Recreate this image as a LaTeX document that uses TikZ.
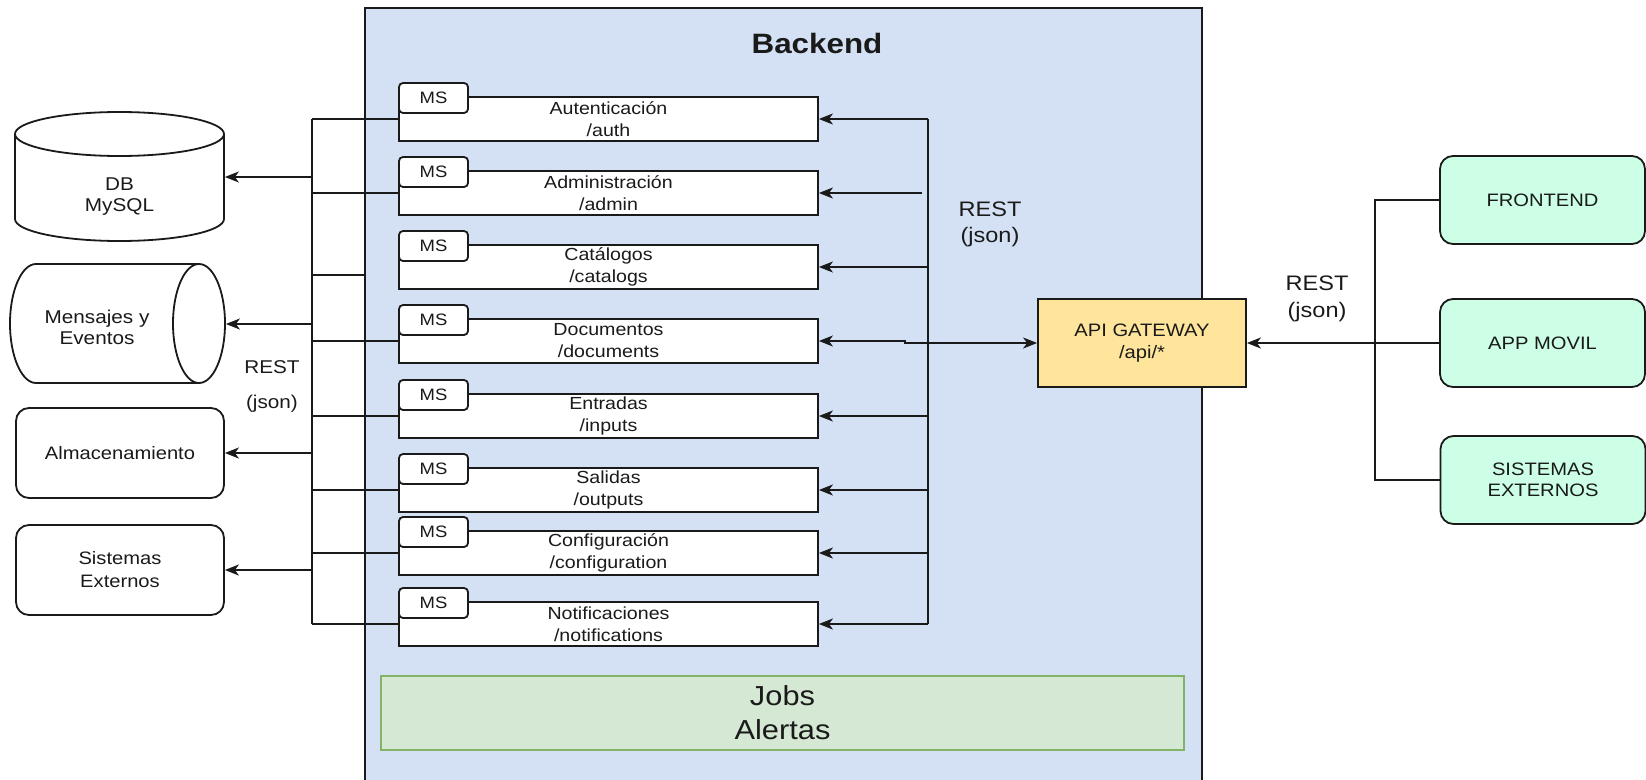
\documentclass[tikz,border=0pt]{standalone}
\usepackage{fontspec}
\setmainfont{Liberation Sans}[FakeStretch=1.12]
\usetikzlibrary{arrows.meta,calc}
\definecolor{beblue}{HTML}{D4E1F5}
\definecolor{mint}{HTML}{CCFFE6}
\definecolor{gwyellow}{HTML}{FFE49C}
\definecolor{jobfill}{HTML}{D5E8D4}
\definecolor{jobline}{HTML}{82B366}
\definecolor{ink}{HTML}{1A1A1A}

% one micro-service: main box plus its "MS" tab
\newcommand\msvc[4]{%
  \node[svcbox] (#1) at (608.5,#2) {#3\\#4};
  \node[mstab] (#1ms) at ($(#1.north west)+(0,-14)$) {MS};
}

\begin{document}
\begin{tikzpicture}[x=1pt,y=-1pt,
  line width=1.8pt, draw=ink,
  every node/.style={inner sep=0pt, align=center, text=ink,
    font=\fontsize{17.5}{22}\selectfont},
  arr/.style={-{Stealth[length=14pt,width=11pt,inset=4pt]}},
  biarr/.style={{Stealth[length=14pt,width=11pt,inset=4pt]}-{Stealth[length=14pt,width=11pt,inset=4pt]}},
  svcbox/.style={draw, fill=white, minimum width=419, minimum height=44},
  mstab/.style={draw, fill=white, rounded corners=4pt, minimum width=69,
    minimum height=30, anchor=north west, font=\fontsize{16.5}{18}\selectfont},
  extbox/.style={draw, fill=white, rounded corners=13pt, minimum width=208,
    minimum height=90, font=\fontsize{18}{23}\selectfont},
  clientbox/.style={draw, fill=mint, rounded corners=13pt, minimum width=205,
    minimum height=88, font=\fontsize{18}{21}\selectfont},
]
\useasboundingbox (0,0) rectangle (1646,779);
\clip (0,0) rectangle (1646,779);

% ---------- Backend container ----------
\node[draw, fill=beblue, minimum width=837, minimum height=790,
      anchor=north west] (backend) at (364,7) {};
\node[font=\fontsize{28}{30}\selectfont\bfseries] (betitle) at (817,43) {Backend};

% ---------- micro-services ----------
\msvc{auth}{119}{Autenticación}{/auth}
\msvc{admin}{193}{Administración}{/admin}
\msvc{cat}{267}{Catálogos}{/catalogs}
\msvc{doc}{341}{Documentos}{/documents}
\msvc{ent}{416}{Entradas}{/inputs}
\msvc{sal}{490}{Salidas}{/outputs}
\msvc{conf}{553}{Configuración}{/configuration}
\msvc{notif}{624}{Notificaciones}{/notifications}

% ---------- jobs ----------
\node[draw=jobline, fill=jobfill, minimum width=803, minimum height=74,
      font=\fontsize{27.5}{34}\selectfont] (jobs) at (782.5,713) {Jobs\\Alertas};

% ---------- API gateway ----------
\node[draw, fill=gwyellow, minimum width=208, minimum height=88,
      font=\fontsize{18}{22}\selectfont] (api) at (1142,343) {API GATEWAY\\/api/*};

% ---------- clients ----------
\node[clientbox] (fe)   at (1542.5,200) {FRONTEND};
\node[clientbox] (app)  at (1542.5,343) {APP MOVIL};
\node[clientbox] (sisR) at (1543,480)   {SISTEMAS\\EXTERNOS};

% ---------- external resources (left) ----------
% database cylinder
\filldraw[fill=white] (15,134) -- (15,219)
  .. controls (15,231.15) and (61.8,241) .. (119.5,241)
  .. controls (177.2,241) and (224,231.15) .. (224,219) -- (224,134);
\filldraw[fill=white] (119.5,134) ellipse [x radius=104.5, y radius=22];
\node[minimum width=209, minimum height=130] (db) at (119.5,177) {};
\node[font=\fontsize{18.5}{21}\selectfont] (dbtxt) at (119.5,197) {DB\\MySQL};

% message queue cylinder (lying)
\filldraw[fill=white] (199,264) -- (36,264)
  .. controls (21.64,264) and (10,290.64) .. (10,323.5)
  .. controls (10,356.36) and (21.64,383) .. (36,383) -- (199,383);
\filldraw[fill=white] (199,323.5) ellipse [x radius=26, y radius=59.5];
\node[minimum width=215, minimum height=120] (msg) at (117.5,324) {};
\node[font=\fontsize{18.5}{21}\selectfont] (msgtxt) at (97,327) {Mensajes y\\Eventos};

\node[extbox] (alm)  at (120,453) {Almacenamiento};
\node[extbox] (sisL) at (120,570) {Sistemas\\Externos};

% ---------- left bus ----------
\coordinate (lbus) at (312,0);
\draw (auth.west -| lbus) -- (notif.west -| lbus);
\foreach \s in {auth,admin,doc,ent,sal,conf,notif}
  \draw (\s.west) -- (\s.west -| lbus);
\coordinate (catstub) at (364,275);
\draw (catstub -| lbus) -- (catstub);
\draw[arr] (db.east -| lbus)   -- (db.east);
\draw[arr] (msg.east -| lbus)  -- (msg.east);
\draw[arr] (alm.east -| lbus)  -- (alm.east);
\draw[arr] (sisL.east -| lbus) -- (sisL.east);
\node[font=\fontsize{18.5}{35}\selectfont] (restL) at (272,386) {REST\\(json)};

% ---------- right distribution line ----------
\coordinate (rbus) at (928,0);
\draw (auth.east -| rbus) -- (notif.east -| rbus);
\foreach \s in {auth,cat,ent,sal,conf,notif}
  \draw[arr] (\s.east -| rbus) -- (\s.east);
\coordinate (admstart) at (922,193);
\draw[arr] (admstart) -- (admin.east);
\draw[biarr] (doc.east) -- ++(86,0) |- (api.west);
\node[font=\fontsize{21}{26}\selectfont] (restB) at (990,224) {REST\\(json)};

% ---------- clients to gateway ----------
\coordinate (cbus) at (1375,0);
\draw (fe.west) -- (fe.west -| cbus) -- (sisR.west -| cbus) -- (sisR.west);
\draw[arr] (app.west) -- (api.east);
\node[font=\fontsize{21}{27}\selectfont] (restR) at (1317,298.5) {REST\\(json)};
\end{tikzpicture}
\end{document}
